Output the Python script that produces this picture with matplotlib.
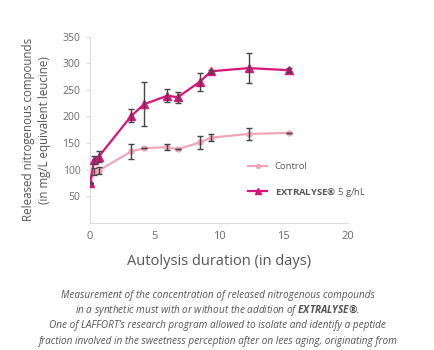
import matplotlib
matplotlib.use('Agg')
import matplotlib.pyplot as plt

plt.rcParams['font.family'] = ['Open Sans', 'DejaVu Sans']
plt.rcParams['mathtext.fontset'] = 'custom'
plt.rcParams['mathtext.bf'] = 'Open Sans:bold'
plt.rcParams['mathtext.bfit'] = 'Open Sans:italic:bold'
plt.rcParams['mathtext.it'] = 'Open Sans:italic'
plt.rcParams['mathtext.rm'] = 'Open Sans'

# data
days_ext = [0, 0.33, 0.67, 3.2, 4.2, 6.0, 6.8, 8.5, 9.4, 12.3, 15.4]
extralyse = [75, 118, 124, 201, 223, 239, 236, 265, 285, 291, 287]
extralyse_err = [0, 7, 10, 12, 41, 12, 10, 17, 3, 29, 4]

days_ctl = [0, 0.33, 0.67, 3.2, 4.2, 6.0, 6.8, 8.5, 9.4, 12.3, 15.4]
control = [75, 96, 98, 134, 140, 142, 138, 151, 160, 167, 169]
control_err = [0, 7, 7, 14, 0, 6, 0, 12, 6, 12, 0]

xticks = [0, 5, 10, 15, 20]
yticks = [50, 100, 150, 200, 250, 300, 350]

caption_lines = [
    "Measurement of the concentration of released nitrogenous compounds",
    "in a synthetic must with or without the addition of $\\mathbfit{EXTRALYSE®}$.",
    "One of LAFFORT\u2019s research program allowed to isolate and identify a peptide",
    "fraction involved in the sweetness perception after on lees aging, originating from",
]

GREY = '#6b6b6b'
PINK = '#f0a6b9'
MAGENTA = '#d9157a'

fig = plt.figure(figsize=(4.35, 3.5), dpi=100)
ax = fig.add_axes([0.207, 0.364, 0.593, 0.531])

ax.plot(days_ctl, control, color=PINK, lw=1.6, marker='o', ms=3.5, label='Control', zorder=3)
ax.errorbar(days_ctl, control, yerr=control_err, fmt='none', ecolor='#444444',
            elinewidth=1, capsize=2.5, capthick=1, zorder=4)
ax.plot(days_ext, extralyse, color=MAGENTA, lw=1.6, marker='^', ms=5.5,
        label='$\\mathbf{EXTRALYSE®}$ 5 g/hL', zorder=3)
ax.errorbar(days_ext, extralyse, yerr=extralyse_err, fmt='none', ecolor='#444444',
            elinewidth=1, capsize=2.5, capthick=1, zorder=4)

ax.set_xlim(0, 20)
ax.set_ylim(0, 350)
ax.set_xticks(xticks)
ax.set_yticks(yticks)
for s in ['top', 'right']:
    ax.spines[s].set_visible(False)
for s in ['left', 'bottom']:
    ax.spines[s].set_color('#dddddd')
    ax.spines[s].set_linewidth(0.8)
ax.tick_params(axis='y', colors='#dddddd', labelcolor=GREY, labelsize=7.5, length=3, width=0.8, pad=4)
ax.tick_params(axis='x', length=0, labelcolor=GREY, labelsize=8, pad=6)

ax.set_xlabel('Autolysis duration (in days)', color='#555555', fontsize=10.5, labelpad=9)
ax.set_ylabel('Released nitrogenous compounds\n(in mg/L equivalent leucine)',
             color='#555555', fontsize=8.3, labelpad=8, linespacing=1.3)

leg = ax.legend(loc='upper left', bbox_to_anchor=(0.58, 0.37), frameon=False,
                fontsize=6.8, labelspacing=1.5, handlelength=2.0, handletextpad=0.8,
                markerscale=0.8, labelcolor='#555555')

for i, line in enumerate(caption_lines):
    fig.text(0.5, 1 - (298 + 15.2 * i) / 350, line, ha='center', va='baseline',
             fontsize=7.2, style='italic', color='#555555')

fig.savefig('out.png', dpi=100)
